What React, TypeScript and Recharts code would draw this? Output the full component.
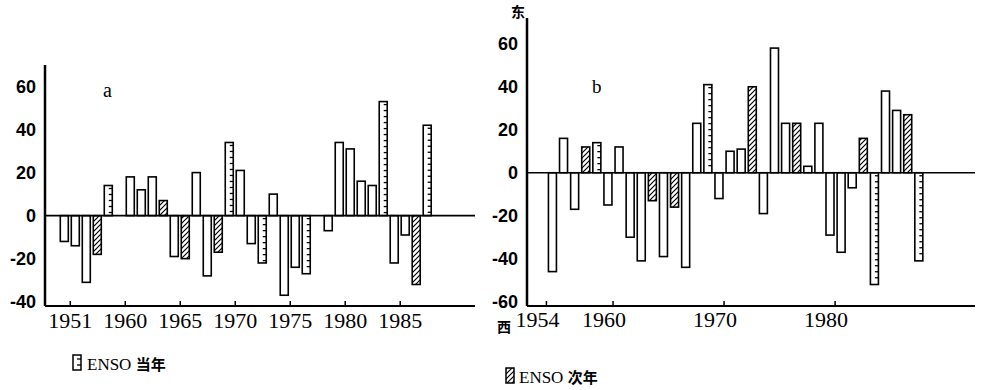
import React from "react";
import { BarChart, Bar, XAxis, YAxis, ReferenceLine } from "recharts";

// a: 年份 / 数值 / 类型 (p = 普通, d = ENSO 当年, h = ENSO 次年)
const yearsA = [
  1954, 1955, 1956, 1957, 1958, 1960, 1961, 1962, 1963, 1964, 1965, 1966, 1967,
  1968, 1969, 1970, 1971, 1972, 1973, 1974, 1975, 1976, 1978, 1979, 1980, 1981,
  1982, 1983, 1984, 1985, 1986, 1987,
];
const valuesA = [
  -12, -14, -31, -18, 14, 18, 12, 18, 7, -19, -20, 20, -28, -17, 34, 21, -13,
  -22, 10, -37, -24, -27, -7, 34, 31, 16, 14, 53, -22, -9, -32, 42,
];
const kindsA = [
  "p", "p", "p", "h", "d", "p", "p", "p", "h", "p", "h", "p", "p", "h", "d", "p",
  "p", "d", "p", "p", "p", "d", "p", "p", "p", "p", "p", "d", "p", "p", "h", "d",
];

// b
const yearsB = [
  1954, 1955, 1956, 1957, 1958, 1959, 1960, 1961, 1962, 1963, 1964, 1965, 1966,
  1967, 1968, 1969, 1970, 1971, 1972, 1973, 1974, 1975, 1976, 1977, 1978, 1979,
  1980, 1981, 1982, 1983, 1984, 1985, 1986, 1987,
];
const valuesB = [
  -46, 16, -17, 12, 14, -15, 12, -30, -41, -13, -39, -16, -44, 23, 41, -12, 10,
  11, 40, -19, 58, 23, 23, 3, 23, -29, -37, -7, 16, -52, 38, 29, 27, -41,
];
const kindsB = [
  "p", "p", "p", "h", "d", "p", "p", "p", "p", "h", "p", "h", "p", "p", "d", "p",
  "p", "p", "h", "p", "p", "p", "h", "p", "p", "p", "p", "p", "h", "d", "p", "p",
  "h", "d",
];

const tickPosA = [1955, 1960, 1965, 1970, 1975, 1980, 1985];
const tickLabelsA = ["1951", "1960", "1965", "1970", "1975", "1980", "1985"];
const tickPosB = [1954, 1960, 1970, 1980];
const tickLabelsB = ["1954", "1960", "1970", "1980"];
const yTicksA = [-40, -20, 0, 20, 40, 60];
const yTicksB = [-60, -40, -20, 0, 20, 40, 60];

const dataA = yearsA.map((yr, i) => ({ x: yr + 0.5, v: valuesA[i], kind: kindsA[i] }));
const dataB = yearsB.map((yr, i) => ({ x: yr + 0.5, v: valuesB[i], kind: kindsB[i] }));

const SERIF = "'Liberation Serif', 'DejaVu Serif', serif";
const SANS = "'Liberation Sans', Arial, sans-serif";
const CJK = "'Noto Sans CJK SC', sans-serif";

function BarMark(props: any) {
  const { x, y, width, height } = props;
  const kind = props.kind ?? props.payload?.kind;
  if (height == null || width == null) return null;
  const top = height < 0 ? y + height : y;
  const h = Math.abs(height);
  const dashes: React.ReactNode[] = [];
  if (kind === "d") {
    for (let yy = top + 3; yy < top + h - 2; yy += 6) {
      dashes.push(
        <line key={yy} x1={x + width - 3.5} x2={x + width} y1={yy} y2={yy} stroke="#000" strokeWidth={1.3} />
      );
    }
  }
  return (
    <g>
      <rect
        x={x}
        y={top}
        width={width}
        height={h}
        fill={kind === "h" ? "url(#hatch)" : "#fff"}
        stroke="#000"
        strokeWidth={1.6}
      />
      {dashes}
    </g>
  );
}

function makeTick(positions: number[], labels: string[], dx: number, dy: number) {
  return function Tick(props: any) {
    const { x, y, payload } = props;
    const idx = positions.indexOf(payload.value);
    return (
      <g>
        <line x1={x} x2={x} y1={y} y2={y - 5} stroke="#000" strokeWidth={1.5} />
        <text x={x + dx} y={y + dy} textAnchor="middle" fontFamily={SERIF} fontSize={22} fill="#000">
          {labels[idx]}
        </text>
      </g>
    );
  };
}

const TickA = makeTick(tickPosA, tickLabelsA, 0, 22);
const TickB = makeTick(tickPosB, tickLabelsB, -9, 21);

const yTickStyle = { fill: "#000", fontSize: 18, fontWeight: 700, fontFamily: SANS };

export default function App() {
  return (
    <div style={{ position: "relative", width: 981, height: 390, background: "#fff" }}>
      <style>{"body{margin:0}"}</style>
      <svg width={0} height={0} style={{ position: "absolute" }}>
        <defs>
          <pattern id="hatch" patternUnits="userSpaceOnUse" width={5} height={5}>
            <path d="M-1,1 l2,-2 M0,5 l5,-5 M4,6 l2,-2" stroke="#000" strokeWidth={1.2} />
          </pattern>
        </defs>
      </svg>

      <div style={{ position: "absolute", left: 0, top: 0 }}>
        <BarChart width={490} height={345} data={dataA} margin={{ top: 65, right: 15, bottom: 9, left: 5 }}>
          <XAxis
            dataKey="x"
            type="number"
            domain={[1952.7, 1991.8]}
            allowDataOverflow
            ticks={tickPosA}
            tick={<TickA />}
            tickLine={false}
            tickSize={0}
            tickMargin={0}
            height={30}
            axisLine={{ stroke: "#000", strokeWidth: 2.2 }}
            interval={0}
          />
          <YAxis
            type="number"
            domain={[-42, 70]}
            allowDataOverflow
            ticks={yTicksA}
            width={40}
            tickLine={false}
            tickMargin={3}
            tick={yTickStyle}
            axisLine={{ stroke: "#000", strokeWidth: 2.5 }}
            interval={0}
          />
          <ReferenceLine y={0} stroke="#000" strokeWidth={1.6} />
          <Bar dataKey="v" barSize={8} shape={<BarMark />} isAnimationActive={false} />
        </BarChart>
      </div>

      <div style={{ position: "absolute", left: 490, top: 0 }}>
        <BarChart width={491} height={345} data={dataB} margin={{ top: 18, right: 6, bottom: 9, left: 0 }}>
          <XAxis
            dataKey="x"
            type="number"
            domain={[1952.25, 1992.6]}
            allowDataOverflow
            ticks={tickPosB}
            tick={<TickB />}
            tickLine={false}
            tickSize={0}
            tickMargin={0}
            height={30}
            axisLine={{ stroke: "#000", strokeWidth: 2.2 }}
            interval={0}
          />
          <YAxis
            type="number"
            domain={[-62, 72]}
            allowDataOverflow
            ticks={yTicksB}
            width={37}
            tickLine={false}
            tickMargin={3}
            tick={yTickStyle}
            axisLine={{ stroke: "#000", strokeWidth: 2.5 }}
            interval={0}
          />
          <ReferenceLine y={0} stroke="#000" strokeWidth={1.6} />
          <Bar dataKey="v" barSize={8} shape={<BarMark />} isAnimationActive={false} />
        </BarChart>
      </div>

      <svg width={981} height={390} style={{ position: "absolute", left: 0, top: 0, pointerEvents: "none" }}>
        <text x={103} y={97} fontFamily={SERIF} fontSize={20} fill="#000">a</text>
        <text x={592} y={93} fontFamily={SERIF} fontSize={19} fill="#000">b</text>
        <text x={511} y={17} fontFamily={CJK} fontWeight={700} fontSize={14} fill="#000">东</text>
        <text x={497} y={332} fontFamily={CJK} fontWeight={700} fontSize={14} fill="#000">西</text>

        <rect x={73} y={355} width={8} height={15} fill="#fff" stroke="#000" strokeWidth={1.5} />
        <line x1={77} x2={81} y1={359} y2={359} stroke="#000" strokeWidth={1.3} />
        <line x1={77} x2={81} y1={365} y2={365} stroke="#000" strokeWidth={1.3} />
        <text x={87} y={370} fill="#000" fontSize={17}>
          <tspan fontFamily={SERIF}>ENSO </tspan>
          <tspan fontFamily={CJK} fontWeight={700} fontSize={15}>当年</tspan>
        </text>

        <rect x={506} y={368} width={8} height={15} fill="url(#hatch)" stroke="#000" strokeWidth={1.5} />
        <text x={519} y={383} fill="#000" fontSize={17}>
          <tspan fontFamily={SERIF}>ENSO </tspan>
          <tspan fontFamily={CJK} fontWeight={700} fontSize={15}>次年</tspan>
        </text>
      </svg>
    </div>
  );
}
